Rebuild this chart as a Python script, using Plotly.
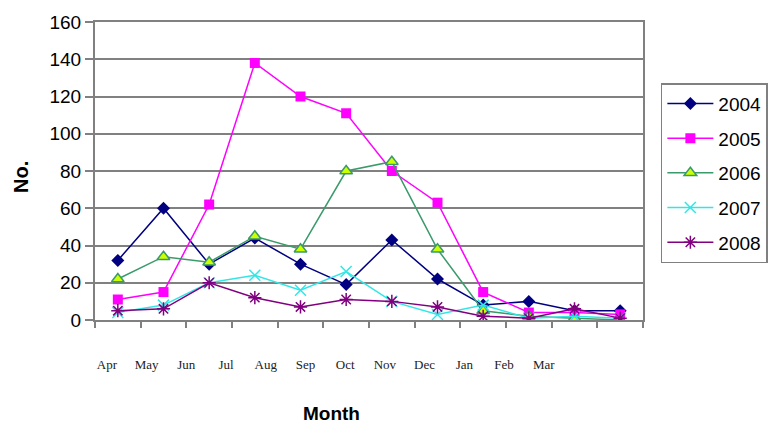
import plotly.graph_objects as go

months = ["Apr", "May", "Jun", "Jul", "Aug", "Sep", "Oct", "Nov", "Dec", "Jan", "Feb", "Mar"]
y2004 = [32, 60, 30, 44, 30, 19, 43, 22, 8, 10, 5, 5]
y2005 = [11, 15, 62, 138, 120, 111, 80, 63, 15, 4, 4, 3]
y2006 = [22, 34, 31, 45, 38, 80, 85, 38, 5, 2, 1, 0]
y2007 = [4, 8, 20, 24, 16, 26, 10, 3, 8, 1, 2, 1]
y2008 = [5, 6, 20, 12, 7, 11, 10, 7, 2, 1, 6, 1]
yticks = [0, 20, 40, 60, 80, 100, 120, 140, 160]

series = [
    ("2004", y2004, "#000080", dict(symbol="diamond", size=10, color="#000080")),
    ("2005", y2005, "#ff00ff", dict(symbol="square", size=10, color="#ff00ff")),
    ("2006", y2006, "#3a9a6a", dict(symbol="triangle-up", size=11, color="#ccff00",
                                     line=dict(color="#3a9a6a", width=1.5))),
    ("2007", y2007, "#33e6e6", dict(symbol="x-thin-open", size=11,
                                     line=dict(color="#33e6e6", width=1.5))),
    ("2008", y2008, "#800080", dict(symbol="asterisk-open", size=11,
                                     line=dict(color="#800080", width=1.5))),
]

fig = go.Figure()
for name, vals, col, mk in series:
    fig.add_trace(go.Scatter(x=months, y=vals, name=name, legendgroup=name,
                             mode="lines+markers",
                             line=dict(color=col, width=1.5), marker=mk))

# separate label axis (labels in the original sit slightly left of the points)
fig.add_trace(go.Scatter(x=[0, 11], y=[None, None], xaxis="x2", showlegend=False,
                         hoverinfo="skip"))

fig.update_layout(
    width=772, height=431,
    margin=dict(l=87, r=133, t=14, b=119),
    plot_bgcolor="white", paper_bgcolor="white",
    font=dict(family="Liberation Sans, Arial", color="black"),
    showlegend=True,
    legend=dict(x=1.0326, y=0.795, xanchor="left", yanchor="top",
                bordercolor="#808080", borderwidth=1.5,
                font=dict(size=19, family="Liberation Sans, Arial"),
                traceorder="grouped", tracegroupgap=7, itemwidth=46),
    xaxis=dict(type="category", categoryorder="array", categoryarray=months,
               showticklabels=False, ticks="outside", ticklen=6, tickson="boundaries",
               tickcolor="#808080", tickwidth=1.5, automargin=False,
               showline=True, linecolor="#808080", linewidth=2, mirror=True,
               showgrid=False, zeroline=False, range=[-0.5, 11.5]),
    xaxis2=dict(overlaying="x", side="bottom", range=[-0.3, 13.5], automargin=False,
                tickvals=list(range(12)), ticktext=months, ticks="",
                showline=False, showgrid=False, zeroline=False,
                ticklabelstandoff=35,
                tickfont=dict(family="Liberation Serif, Times New Roman", size=13, color="#222")),
    yaxis=dict(range=[0, 160], tickvals=yticks, ticks="outside", ticklen=8,
               tickcolor="#808080", tickwidth=1.5, automargin=False,
               tickfont=dict(size=19),
               showline=True, linecolor="#808080", linewidth=2, mirror=True,
               showgrid=True, gridcolor="#808080", gridwidth=1.5, zeroline=False),
    annotations=[
        dict(text="<b>Month</b>", x=0.431, y=-0.356, xref="paper", yref="paper",
             xanchor="center", showarrow=False, font=dict(size=19)),
        dict(text="<b>No.</b>", x=-0.135, y=0.48, xref="paper", yref="paper",
             xanchor="center", yanchor="middle", textangle=-90, showarrow=False,
             font=dict(size=20)),
    ],
)

fig.write_html("out.html")
